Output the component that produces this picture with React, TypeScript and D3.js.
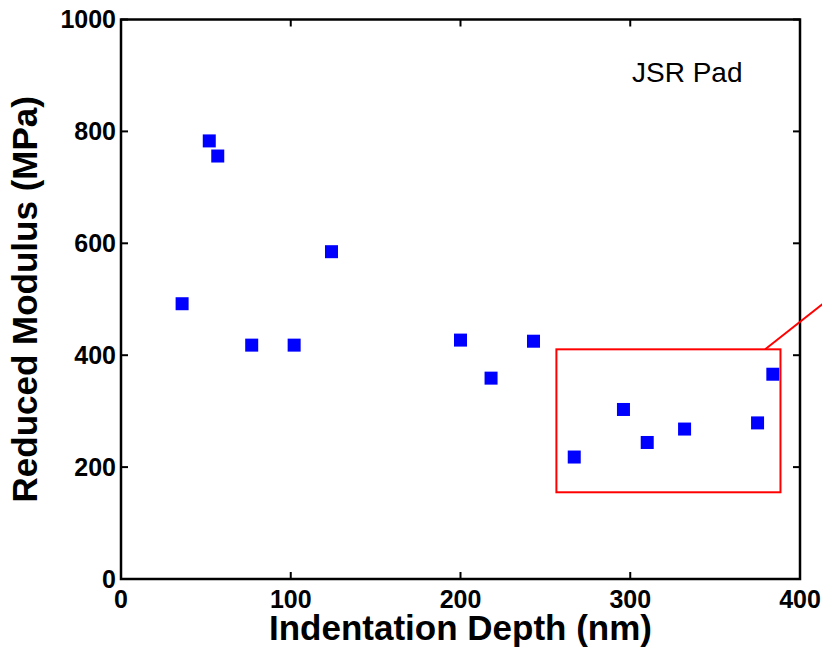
import React from 'react';
import * as d3 from 'd3';

// values
const depth = [36, 52, 57, 77, 102, 124, 200, 218, 243, 267, 296, 310, 332, 375, 384];
const modulus = [492, 783, 756, 418, 418, 585, 427, 359, 425, 218, 303, 244, 268, 279, 366];
const xTicks = [0, 100, 200, 300, 400];
const yTicks = [0, 200, 400, 600, 800, 1000];
const zoomBox = { x0: 256.5, x1: 388.5, y0: 155, y1: 410.5 };
const leader = [[379.5, 410.5], [424, 517]];

const W = 822;
const H = 650;
const margin = { top: 19.5, right: 22, bottom: 71, left: 121 };
const font = '"Liberation Sans", Arial, sans-serif';

const App = () => {
  const x = d3.scaleLinear().domain([0, 400]).range([margin.left, W - margin.right]);
  const y = d3.scaleLinear().domain([0, 1000]).range([H - margin.bottom, margin.top]);
  const [x0, x1] = x.range();
  const [y0, y1] = y.range();
  const tick = 7;
  const size = 13;
  const pts = depth.map((d, i) => ({ d, m: modulus[i] }));
  const line = d3.line<number[]>().x(p => x(p[0])).y(p => y(p[1]));

  return (
    <svg width={W} height={H} style={{ position: 'absolute', left: 0, top: 0, background: '#fff' }}
      fontFamily={font}>
      {/* frame */}
      <rect x={x0} y={y1} width={x1 - x0} height={y0 - y1} fill="none" stroke="#000" strokeWidth={2.5} />
      {xTicks.map(t => (
        <g key={'x' + t}>
          <line x1={x(t)} x2={x(t)} y1={y0} y2={y0 - tick} stroke="#000" strokeWidth={2} />
          <line x1={x(t)} x2={x(t)} y1={y1} y2={y1 + tick} stroke="#000" strokeWidth={2} />
          <text x={x(t)} y={608} textAnchor="middle" fontSize={25} fontWeight="bold">{t}</text>
        </g>
      ))}
      {yTicks.map(t => (
        <g key={'y' + t}>
          <line x1={x0} x2={x0 + tick} y1={y(t)} y2={y(t)} stroke="#000" strokeWidth={2} />
          <line x1={x1} x2={x1 - tick} y1={y(t)} y2={y(t)} stroke="#000" strokeWidth={2} />
          <text x={116} y={y(t)} dy="0.35em" textAnchor="end" fontSize={25} fontWeight="bold">{t}</text>
        </g>
      ))}
      {/* points */}
      {pts.map((p, i) => (
        <rect key={i} x={x(p.d) - size / 2} y={y(p.m) - size / 2} width={size} height={size} fill="#0000ff" />
      ))}
      {/* highlight box */}
      <rect x={x(zoomBox.x0)} y={y(zoomBox.y1)} width={x(zoomBox.x1) - x(zoomBox.x0)}
        height={y(zoomBox.y0) - y(zoomBox.y1)} fill="none" stroke="#ff0000" strokeWidth={2} />
      <path d={line(leader) || ''} fill="none" stroke="#ff0000" strokeWidth={2} />
      <text x={632} y={82} fontSize={28}>JSR Pad</text>
      <text x={(x0 + x1) / 2} y={640} textAnchor="middle" fontSize={35} fontWeight="bold">
        Indentation Depth (nm)
      </text>
      <text transform={`translate(37,${(y0 + y1) / 2}) rotate(-90)`} textAnchor="middle" fontSize={35}
        fontWeight="bold">
        Reduced Modulus (MPa)
      </text>
    </svg>
  );
};

export default App;
